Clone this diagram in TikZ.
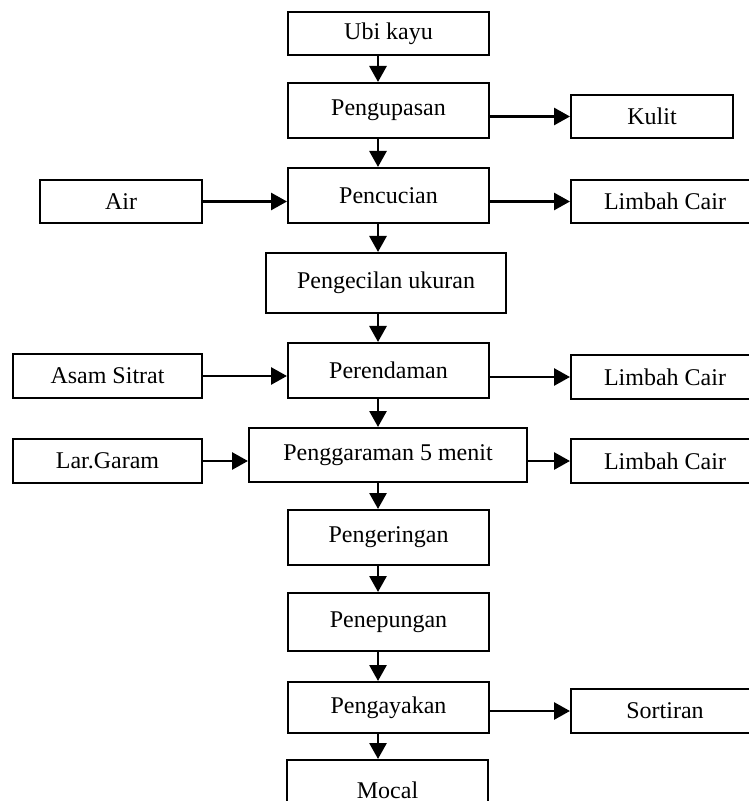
\documentclass[tikz,border=0pt]{standalone}
\usepackage{fontspec}
\setmainfont{Liberation Serif}
\usetikzlibrary{arrows.meta, positioning, calc}
\tikzset{
  box/.style={rectangle, draw=black, line width=1pt, inner sep=0pt,
    align=center, font=\fontsize{12}{14}\selectfont},
  mainbox/.style={box, minimum width=100.5pt, minimum height=27.5pt},
  sidebox/.style={box, minimum width=94pt, minimum height=22pt},
  arrow/.style={-{Triangle[length=8pt, width=8.5pt]}, line width=1.4pt}
}
\begin{document}
\begin{tikzpicture}[x=0.5pt, y=-0.5pt]
  \useasboundingbox (0,0) rectangle (748,801);
  % Column of the downward arrows
  \coordinate (spine) at (378,0);

  % Main process chain
  \node[mainbox, minimum height=21.5pt] (ubi) at (388.5,33.5) {Ubi kayu};
  \node[mainbox] (kupas) at (388.5,110.5) {Pengupasan};
  \node[mainbox] (cuci) at (388.5,195.5) {Pencucian};
  \node[mainbox, minimum width=120pt, minimum height=30pt] (kecil) at (386,283) {Pengecilan ukuran};
  \node[mainbox] (rendam) at (388.5,370.5) {Perendaman};
  \node[mainbox, minimum width=139pt, minimum height=27pt] (garam) at (388,455) {Penggaraman 5 menit};
  \node[mainbox] (kering) at (388.5,537.5) {Pengeringan};
  \node[mainbox, minimum height=29pt] (tepung) at (388.5,622) {Penepungan};
  \node[mainbox, minimum height=25.5pt] (ayak) at (388.5,707.5) {Pengayakan};
  \node[mainbox, minimum height=30pt] (mocal) at (387.5,790) {Mocal};

  % Inputs
  \node[sidebox, minimum width=81pt, minimum height=21.5pt] (air) at (121,201.5) {Air};
  \node[sidebox, minimum width=94.5pt] (asam) at (107.5,376) {Asam Sitrat};
  \node[sidebox, minimum width=94.5pt] (larutan) at (107.5,461) {Lar.Garam};

  % Outputs
  \node[sidebox, minimum width=81pt, minimum height=21.5pt] (kulit) at (652,116.5) {Kulit};
  \node[sidebox, minimum height=21.5pt] (limbaha) at (665,201.5) {Limbah Cair};
  \node[sidebox] (limbahb) at (665,377) {Limbah Cair};
  \node[sidebox] (limbahc) at (665,461) {Limbah Cair};
  \node[sidebox] (sortir) at (665,711) {Sortiran};

  % Downward arrows
  \draw[arrow] (ubi.south -| spine) -- (kupas.north -| spine);
  \draw[arrow] (kupas.south -| spine) -- (cuci.north -| spine);
  \draw[arrow] (cuci.south -| spine) -- (kecil.north -| spine);
  \draw[arrow] (kecil.south -| spine) -- (rendam.north -| spine);
  \draw[arrow] (rendam.south -| spine) -- (garam.north -| spine);
  \draw[arrow] (garam.south -| spine) -- (kering.north -| spine);
  \draw[arrow] (kering.south -| spine) -- (tepung.north -| spine);
  \draw[arrow] (tepung.south -| spine) -- (ayak.north -| spine);
  \draw[arrow] (ayak.south -| spine) -- (mocal.north -| spine);

  % Side arrows
  \draw[arrow] (air.east) -- (cuci.west |- air.east);
  \draw[arrow] (asam.east) -- (rendam.west |- asam.east);
  \draw[arrow] (larutan.east) -- (garam.west |- larutan.east);
  \draw[arrow] (kupas.east |- kulit.west) -- (kulit.west);
  \draw[arrow] (cuci.east |- limbaha.west) -- (limbaha.west);
  \draw[arrow] (rendam.east |- limbahb.west) -- (limbahb.west);
  \draw[arrow] (garam.east |- limbahc.west) -- (limbahc.west);
  \draw[arrow] (ayak.east |- sortir.west) -- (sortir.west);
\end{tikzpicture}
\end{document}
